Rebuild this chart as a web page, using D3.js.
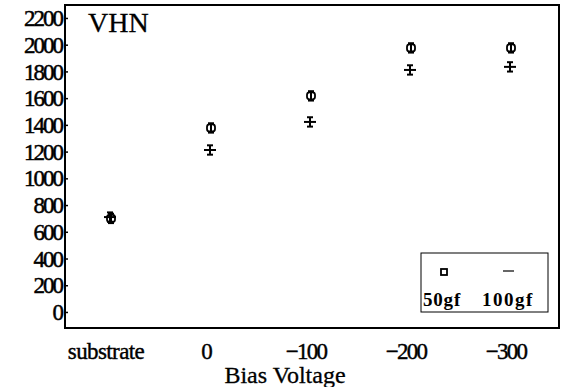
<!DOCTYPE html>
<html>
<head>
<meta charset="utf-8">
<script src="https://cdn.jsdelivr.net/npm/d3@7"></script>
<style>
  body { margin: 0; background: #fff; }
  svg text { font-family: "Liberation Serif", "DejaVu Serif", serif; fill: #000; }
</style>
</head>
<body>
<div id="chart"></div>
<script>
// categories along the bias axis
const categories = ["substrate", "0", "-100", "-200", "-300"];
const yTicks = [0, 200, 400, 600, 800, 1000, 1200, 1400, 1600, 1800, 2000, 2200];

// hardness values
const hv50 = [700, 1377, 1617, 1976, 1976];
const hv100 = [710, 1212, 1422, 1811, 1834];
const err50 = [35, 35, 35, 35, 35];
const err100 = [35, 35, 35, 35, 35];

const width = 563, height = 387;
const mLeft = 65, mRight = 559, mTop = 5, mBottom = 328;

const svg = d3.select("#chart").append("svg")
    .attr("width", width)
    .attr("height", height);

const x = d3.scalePoint()
    .domain(categories)
    .range([110, 510]);

const y = d3.scaleLinear()
    .domain([-120, 2297])
    .range([mBottom, mTop]);

// frame
svg.append("rect")
    .attr("x", mLeft).attr("y", mTop)
    .attr("width", mRight - mLeft).attr("height", mBottom - mTop)
    .attr("fill", "none")
    .attr("stroke", "#000")
    .attr("stroke-width", 2);

// y axis ticks + labels
const yAxis = svg.append("g")
    .attr("transform", `translate(${mLeft},0)`)
    .call(d3.axisLeft(y).tickValues(yTicks).tickFormat(d3.format("d"))
        .tickSize(-3).tickPadding(3));
yAxis.select(".domain").remove();
yAxis.selectAll("line").attr("stroke-width", 1.5);
yAxis.selectAll("text")
    .attr("font-size", 23)
    .attr("letter-spacing", -2)
    .attr("stroke", "#000")
    .attr("stroke-width", 0.5)
    .attr("dy", "0.33em");

// x tick labels
svg.append("g").selectAll("text")
    .data(categories)
    .join("text")
    .attr("x", d => x(d) - 4)
    .attr("y", 359)
    .attr("text-anchor", "middle")
    .attr("font-size", 23)
    .attr("stroke", "#000")
    .attr("stroke-width", 0.4)
    .attr("letter-spacing", d => d === "substrate" ? -0.6 : -1.8)
    .text(d => d.replace("-", "\u2212"));

svg.append("text")
    .attr("x", 285).attr("y", 383)
    .attr("text-anchor", "middle")
    .attr("font-size", 24)
    .attr("stroke", "#000")
    .attr("stroke-width", 0.3)
    .text("Bias Voltage");

svg.append("text")
    .attr("x", 88).attr("y", 32)
    .attr("font-size", 28)
    .attr("stroke", "#000")
    .attr("stroke-width", 0.3)
    .text("VHN");

// error bars helper
function errBar(g, cx, v, e) {
    g.append("line")
        .attr("x1", cx).attr("x2", cx)
        .attr("y1", y(v - e)).attr("y2", y(v + e))
        .attr("stroke", "#000").attr("stroke-width", 2);
    [v - e, v + e].forEach(t => {
        g.append("line")
            .attr("x1", cx - 3).attr("x2", cx + 3)
            .attr("y1", y(t)).attr("y2", y(t))
            .attr("stroke", "#000").attr("stroke-width", 2);
    });
}

const pts = svg.append("g");

// 100gf : dash with error bar
hv100.forEach((v, i) => {
    const cx = x(categories[i]);
    errBar(pts, cx, v, err100[i]);
    pts.append("line")
        .attr("x1", cx - 6).attr("x2", cx + 6)
        .attr("y1", y(v)).attr("y2", y(v))
        .attr("stroke", "#000").attr("stroke-width", 2);
});

// 50gf : open square with error bar
hv50.forEach((v, i) => {
    const cx = x(categories[i]) + 1;
    errBar(pts, cx, v, err50[i]);
    pts.append("rect")
        .attr("x", cx - 4).attr("y", y(v) - 3.5)
        .attr("width", 8).attr("height", 7)
        .attr("rx", 2.5)
        .attr("fill", "none")
        .attr("stroke", "#000").attr("stroke-width", 1.8);
});

// legend
const lg = svg.append("g");
lg.append("rect")
    .attr("x", 421).attr("y", 253)
    .attr("width", 127).attr("height", 59)
    .attr("fill", "#fff")
    .attr("stroke", "#000").attr("stroke-width", 1);
lg.append("rect")
    .attr("x", 441).attr("y", 269)
    .attr("width", 6).attr("height", 6)
    .attr("fill", "none")
    .attr("stroke", "#000").attr("stroke-width", 1.8);
lg.append("line")
    .attr("x1", 503).attr("x2", 514)
    .attr("y1", 271).attr("y2", 271)
    .attr("stroke", "#000").attr("stroke-width", 1.2);
lg.append("text")
    .attr("x", 423).attr("y", 306)
    .attr("font-size", 19).attr("font-weight", "bold")
    .attr("letter-spacing", 0.8)
    .text("50gf");
lg.append("text")
    .attr("x", 482).attr("y", 306)
    .attr("font-size", 19).attr("font-weight", "bold")
    .attr("letter-spacing", 1.5)
    .text("100gf");
</script>
</body>
</html>
